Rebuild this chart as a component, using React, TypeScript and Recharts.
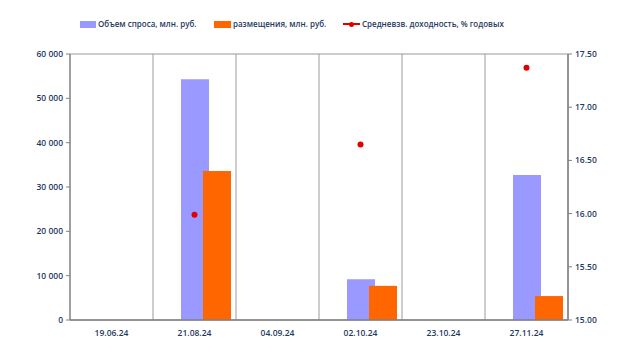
import React from "react";
import {
  ComposedChart,
  Bar,
  Line,
  XAxis,
  YAxis,
  CartesianGrid,
} from "recharts";

const dates = ["19.06.24", "21.08.24", "04.09.24", "02.10.24", "23.10.24", "27.11.24"];
const demand = [null, 54300, null, 9200, null, 32700];
const placement = [null, 33600, null, 7700, null, 5400];
const yieldAvg = [null, 15.99, null, 16.65, null, 17.37];
const leftTicks = [0, 10000, 20000, 30000, 40000, 50000, 60000];
const rightTicks = [15, 15.5, 16, 16.5, 17, 17.5];
const legendLabels = ["Объем спроса, млн. руб.", "размещения, млн. руб.", "Средневзв. доходность, % годовых"];

const data = dates.map((d, i) => ({
  date: d,
  spacer: null,
  demand: demand[i],
  placement: placement[i],
  yieldAvg: yieldAvg[i],
}));

const TEXT = "#1f3a5f";
const FONT = "'Open Sans', 'Noto Sans', sans-serif";
const BLUE = "#9999ff";
const ORANGE = "#ff6600";
const RED = "#e00000";

const fmtLeft = (v: number) =>
  v >= 1000 ? `${Math.floor(v / 1000)}\u00a0${String(v % 1000).padStart(3, "0")}` : String(v);

const tickStyle = { fill: TEXT, fontSize: 8.5, fontFamily: FONT, fontWeight: 600 };

export default function App() {
  const W = 620;
  const H = 362;
  const txt = { position: "absolute" as const, top: -6, lineHeight: "12px" };
  return (
    <div style={{ position: "absolute", left: 0, top: 0, width: W, height: H, background: "#fff" }}>
      <div
        style={{
          position: "absolute",
          top: 24,
          left: 0,
          width: W,
          fontFamily: FONT,
          fontSize: 8,
          fontWeight: 600,
          color: TEXT,
          whiteSpace: "nowrap",
          zIndex: 2,
        }}
      >
        <span style={{ position: "absolute", left: 80, top: -3.5, width: 16, height: 7, background: BLUE }} />
        <span style={{ ...txt, left: 98 }}>{legendLabels[0]}</span>
        <span style={{ position: "absolute", left: 214, top: -3.5, width: 17, height: 7, background: ORANGE }} />
        <span style={{ ...txt, left: 233 }}>{legendLabels[1]}</span>
        <span style={{ position: "absolute", left: 343, top: -1, width: 17, height: 2, background: RED }} />
        <span style={{ position: "absolute", left: 349, top: -2.5, width: 5, height: 5, borderRadius: 3, background: RED }} />
        <span style={{ ...txt, left: 362 }}>{legendLabels[2]}</span>
      </div>
      <ComposedChart
        width={W}
        height={H}
        data={data}
        margin={{ top: 54, right: 12, bottom: 12, left: 0 }}
        barSize={28}
        barGap={-6}
        style={{ position: "absolute", left: 0, top: 0 }}
      >
        <CartesianGrid
          stroke="#9a9a9a"
          strokeWidth={1}
          verticalCoordinatesGenerator={({ offset }: any) =>
            dates.map((_, i) => offset.left + ((i + 1) * offset.width) / dates.length)
          }
        />
        <XAxis
          dataKey="date"
          tick={tickStyle}
          tickLine={false}
          axisLine={{ stroke: "#808080", strokeWidth: 1.5 }}
          height={30}
          interval={0}
          tickMargin={4}
        />
        <YAxis
          yAxisId="left"
          domain={[0, 60000]}
          ticks={leftTicks}
          tickFormatter={fmtLeft}
          tick={tickStyle}
          width={70}
          tickSize={4}
          tickLine={{ stroke: "#808080" }}
          axisLine={{ stroke: "#808080", strokeWidth: 1.5 }}
          tickMargin={3}
          interval={0}
        />
        <YAxis
          yAxisId="right"
          orientation="right"
          domain={[15, 17.5]}
          ticks={rightTicks}
          tickFormatter={(v: number) => v.toFixed(2)}
          tick={tickStyle}
          width={40}
          tickSize={4}
          tickLine={{ stroke: "#808080" }}
          axisLine={{ stroke: "#808080", strokeWidth: 1.5 }}
          tickMargin={3}
          interval={0}
        />
        <Bar yAxisId="left" dataKey="spacer" fill="transparent" legendType="none" isAnimationActive={false} />
        <Bar yAxisId="left" dataKey="demand" fill={BLUE} isAnimationActive={false} />
        <Bar yAxisId="left" dataKey="placement" fill={ORANGE} isAnimationActive={false} />
        <Line
          yAxisId="right"
          dataKey="yieldAvg"
          stroke={RED}
          strokeWidth={2}
          dot={{ r: 3, fill: RED, stroke: RED, strokeWidth: 0 }}
          activeDot={false}
          isAnimationActive={false}
        />
      </ComposedChart>
    </div>
  );
}
